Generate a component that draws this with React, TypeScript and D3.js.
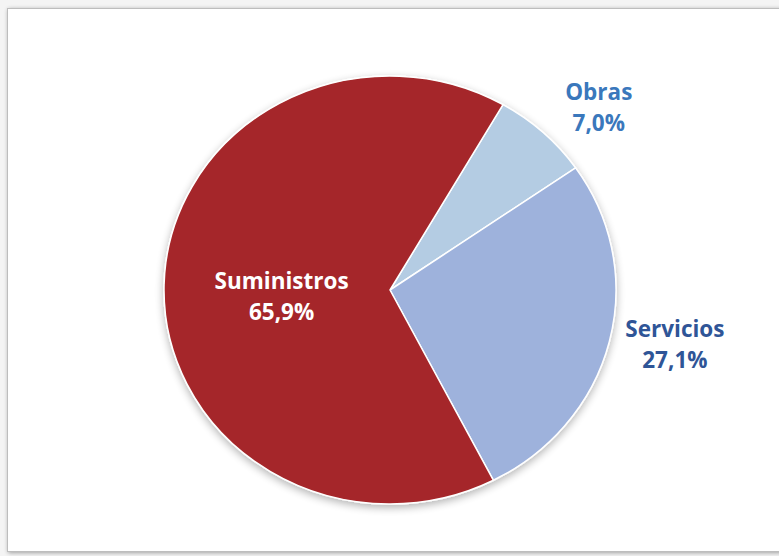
import React from "react";
import * as d3 from "d3";

const categories = ["Obras", "Servicios", "Suministros"];
const values = [7.0, 27.1, 65.9];
const valueLabels = ["7,0%", "27,1%", "65,9%"];
const colors = ["#B4CCE3", "#9EB2DC", "#A5282A"];
const labelColors = ["#3A78BC", "#2F5597", "#FFFFFF"];

const W = 779;
const H = 556;
const cx = 390;
const cy = 290;
const r = 214;
const sx = 226 / 214;
const labelRadius = [1.26, 1.29, 0.48];
const labelNudge = [
  [16, 16],
  [2, -12],
  [0, 9],
];
const fs = 22.5;
const lineGap = 31;

export default function App() {
  const pie = d3
    .pie<number>()
    .sort(null)
    .value((d) => d)
    .startAngle((30 * Math.PI) / 180)
    .endAngle((30 * Math.PI) / 180 + 2 * Math.PI);
  const arcs = pie(values);
  const arc = d3.arc<d3.PieArcDatum<number>>().innerRadius(0).outerRadius(r);

  const labelPos = arcs.map((a, i) => {
    const mid = (a.startAngle + a.endAngle) / 2;
    const rr = r * labelRadius[i];
    const x = Math.sin(mid) * rr * sx + labelNudge[i][0];
    const y = -Math.cos(mid) * rr + labelNudge[i][1];
    return [x, y];
  });

  return (
    <svg
      width={W}
      height={H}
      style={{ position: "absolute", left: 0, top: 0, background: "#fff" }}
      fontFamily="'Open Sans', sans-serif"
    >
      <defs>
        <filter id="shadow" x="-10%" y="-10%" width="120%" height="120%">
          <feGaussianBlur in="SourceAlpha" stdDeviation="4" />
          <feOffset dx="0" dy="3" result="b" />
          <feComponentTransfer>
            <feFuncA type="linear" slope="0.3" />
          </feComponentTransfer>
          <feMerge>
            <feMergeNode />
            <feMergeNode in="SourceGraphic" />
          </feMerge>
        </filter>
        <filter id="frameShadow" x="-5%" y="-5%" width="110%" height="110%">
          <feGaussianBlur in="SourceAlpha" stdDeviation="2" />
          <feOffset dx="1" dy="1" />
          <feComponentTransfer>
            <feFuncA type="linear" slope="0.35" />
          </feComponentTransfer>
          <feMerge>
            <feMergeNode />
            <feMergeNode in="SourceGraphic" />
          </feMerge>
        </filter>
      </defs>
      <rect x={0} y={0} width={W} height={H} fill="#f4f4f4" />
      <rect
        x={7.5}
        y={8.5}
        width={W + 20}
        height={543}
        fill="#fff"
        stroke="#BDBDBD"
        strokeWidth={1}
        filter="url(#frameShadow)"
      />
      <g transform={`translate(${cx},${cy}) scale(${sx},1)`} filter="url(#shadow)">
        {arcs.map((a, i) => (
          <path
            key={categories[i]}
            d={arc(a) || ""}
            fill={colors[i]}
            stroke="#fff"
            strokeWidth={1.5}
            strokeLinejoin="round"
            vectorEffect="non-scaling-stroke"
          />
        ))}
      </g>
      <g transform={`translate(${cx},${cy})`}>
        {arcs.map((a, i) => (
          <text
            key={categories[i]}
            textAnchor="middle"
            fontWeight="bold"
            fontSize={fs}
            fill={labelColors[i]}
          >
            <tspan x={labelPos[i][0]} y={labelPos[i][1] - 8}>
              {categories[i]}
            </tspan>
            <tspan x={labelPos[i][0]} y={labelPos[i][1] - 8 + lineGap}>
              {valueLabels[i]}
            </tspan>
          </text>
        ))}
      </g>
    </svg>
  );
}
